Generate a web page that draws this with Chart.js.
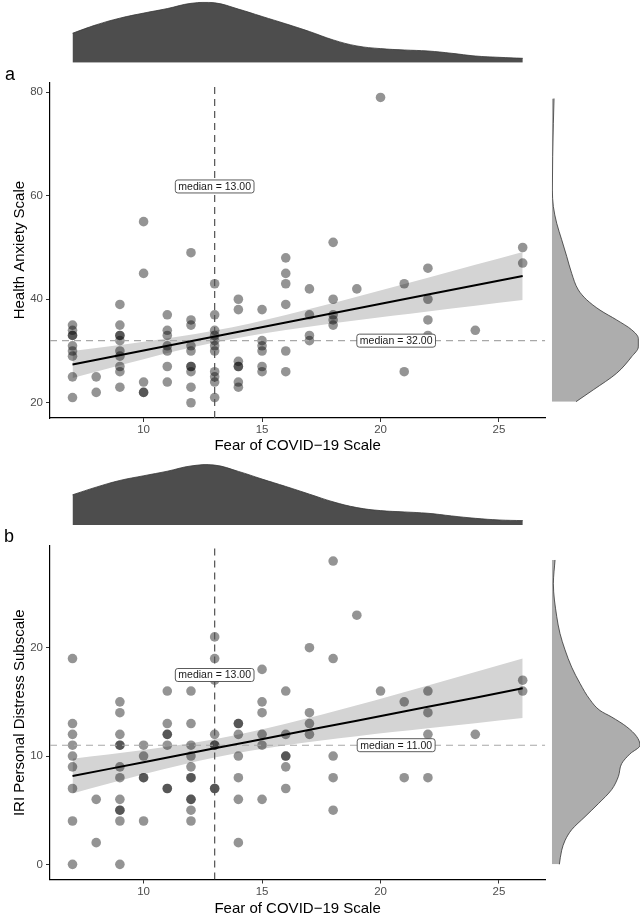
<!DOCTYPE html>
<html><head><meta charset="utf-8">
<script src="https://cdn.jsdelivr.net/npm/chart.js@4.4.1/dist/chart.umd.min.js"></script>
<style>
html,body{margin:0;padding:0;background:#fff;}
#wrap{position:relative;width:644px;height:916px;overflow:hidden;background:#fff;}
canvas{position:absolute;}
.tag{position:absolute;font-family:'Liberation Sans',Arial,sans-serif;font-size:18px;line-height:18px;color:#000;z-index:5;}
</style></head><body>
<div id="wrap">
<canvas id="topA" style="left:0;top:0" width="550" height="70"></canvas>
<canvas id="scatA" style="left:0;top:70px" width="550" height="383"></canvas>
<canvas id="rightA" style="left:545px;top:70px" width="99" height="360"></canvas>
<canvas id="topB" style="left:0;top:455px" width="550" height="75"></canvas>
<canvas id="scatB" style="left:0;top:530px" width="550" height="386"></canvas>
<canvas id="rightB" style="left:545px;top:530px" width="99" height="386"></canvas>
<span class="tag" style="left:5px;top:65px">a</span>
<span class="tag" style="left:4px;top:527px">b</span>
</div>
<script>
// ---------- data ----------
const xTicks = [10, 15, 20, 25];
const yTicksA = [20, 40, 60, 80];
const yTicksB = [0, 10, 20];

const fearA = [7,7,7,7,7,7,7,7,7, 8,8, 9,9,9,9,9,9,9,9,9,9, 10,10,10,10,10, 11,11,11,11,11,11,11,
  12,12,12,12,12,12,12,12,12,12, 13,13,13,13,13,13,13,13,13,13,13, 14,14,14,14,14,14,14,
  15,15,15,15,15,15, 16,16,16,16,16,16, 17,17,17,17, 18,18,18,18,18, 19, 20, 21,21, 22,22,22,22, 24, 26,26];
const anxietyA = [35,34,33,33,31,30,29,25,21, 25,22, 39,35,33,33,32,30,29,27,26,23, 55,45,24,22,22, 37,34,33,31,30,27,24,
  49,36,35,31,30,27,27,26,23,20, 43,37,34,33,32,31,30,26,25,24,21, 40,38,28,27,27,24,23,
  38,32,31,30,27,26, 48,45,43,39,30,26, 42,37,33,32, 51,40,37,36,35, 42, 79, 43,26, 46,40,36,33, 34, 50,47];

const fearB = [7,7,7,7,7,7,7,7,7, 8,8, 9,9,9,9,9,9,9,9,9,9,9,9, 10,10,10,10,10, 11,11,11,11,11,11,11,
  12,12,12,12,12,12,12,12,12,12,12, 13,13,13,13,13,13,13,13, 14,14,14,14,14,14,14,
  15,15,15,15,15,15, 16,16,16,16,16,16, 17,17,17,17, 18,18,18,18,18, 19, 20, 21,21, 22,22,22,22, 24, 26,26];
const distressB = [19,13,12,11,10,9,7,4,0, 6,2, 15,14,12,11,11,9,8,6,5,5,4,0, 11,10,8,8,4, 16,13,12,12,11,7,7,
  16,13,11,10,9,8,8,6,6,5,4, 21,19,17,12,11,11,7,7, 13,13,12,10,8,6,2,
  18,15,14,12,11,6, 16,12,10,10,9,7, 20,14,13,12, 28,19,10,8,5, 23, 16, 15,8, 16,14,12,8, 12, 17,16];

// regression fit and confidence band
const fitX = [7, 8.5, 10, 11.5, 13, 14.5, 16, 17.5, 19, 20.5, 22, 24, 26];
const fitA = [27.4, 28.75, 30.1, 31.45, 32.8, 34.15, 35.5, 36.85, 38.2, 39.55, 40.9, 42.7, 44.5];
const lowA = [24.8, 26.63, 28.41, 30.12, 31.66, 32.97, 34.06, 35.02, 35.92, 36.79, 37.64, 38.75, 39.85];
const uppA = [30.0, 30.87, 31.79, 32.78, 33.94, 35.33, 36.94, 38.68, 40.48, 42.31, 44.16, 46.65, 49.15];
const fitB = [8.15, 8.79, 9.43, 10.07, 10.71, 11.35, 11.99, 12.63, 13.26, 13.9, 14.54, 15.39, 16.25];
const lowB = [6.55, 7.44, 8.31, 9.13, 9.86, 10.48, 11.0, 11.44, 11.83, 12.21, 12.56, 13.03, 13.5];
const uppB = [9.75, 10.14, 10.55, 11.01, 11.56, 12.22, 12.98, 13.82, 14.69, 15.59, 16.52, 17.75, 19.0];

const medianFear = 13, medianAnxiety = 32, medianDistress = 11;

// marginal densities
const fearDensX = [7,8,9,10,11,12,13,14,15,16,17,18,19,20,21,22,23,24,25,26];
const fearDensA = [0.0498,0.0640,0.0753,0.0838,0.0915,0.1003,0.1012,0.0906,0.0781,0.0657,0.0527,0.0385,0.0283,0.0238,0.0215,0.0198,0.0159,0.0113,0.0091,0.0074];
const fearDensB = [0.0510,0.0640,0.0753,0.0832,0.0909,0.0998,0.1012,0.0906,0.0776,0.0651,0.0521,0.0391,0.0294,0.0243,0.0221,0.0198,0.0153,0.0113,0.0085,0.0074];

const anxDensY = [20.2,22.5,25.7,28.9,30.8,32.4,34.1,36.0,37.9,39.9,41.8,45.0,48.3,51.5,54.7,57.9,61.1,67.6,74.0,78.8];
const anxDens  = [0.0146,0.025,0.039,0.048,0.052,0.052,0.048,0.039,0.029,0.021,0.016,0.012,0.009,0.006,0.003,0.001,0.0004,0.0006,0.001,0.0014];

const disDensY = [0,1.3,2.2,3.2,4.4,5.6,6.9,8.1,9.3,10.2,11.0,11.8,12.7,13.6,14.2,15.2,16.7,18.2,19.8,21.3,22.9,25.9,28.1];
const disDens  = [0.0046,0.006,0.008,0.012,0.020,0.028,0.036,0.040,0.042,0.047,0.053,0.051,0.045,0.036,0.029,0.023,0.017,0.012,0.008,0.005,0.003,0.001,0.002];

// ---------- rendering ----------
const FONT = "'Liberation Sans', Arial, Helvetica, sans-serif";
Chart.defaults.font.family = FONT;
Chart.defaults.animation = false;
Chart.defaults.responsive = false;
Chart.defaults.events = [];
Chart.defaults.plugins.legend.display = false;
Chart.defaults.plugins.tooltip.enabled = false;

const xMin = 6.05, xMax = 26.95;

const medianLabelPlugin = {
  id: 'medianLabels',
  afterDatasetsDraw(chart, args, opts) {
    const items = (opts && opts.items) || [];
    const ctx = chart.ctx, xs = chart.scales.x, ys = chart.scales.y;
    ctx.save();
    ctx.font = '10.5px ' + FONT;
    ctx.textAlign = 'center';
    ctx.textBaseline = 'middle';
    items.forEach(it => {
      const px = xs.getPixelForValue(it.x), py = ys.getPixelForValue(it.y);
      const w = ctx.measureText(it.text).width + 6, h = 13;
      ctx.beginPath();
      ctx.roundRect(px - w / 2, py - h / 2, w, h, 2.5);
      ctx.fillStyle = '#fff'; ctx.fill();
      ctx.lineWidth = 0.9; ctx.strokeStyle = '#4a4a4a'; ctx.stroke();
      ctx.fillStyle = '#1a1a1a';
      ctx.fillText(it.text, px, py + 0.5);
    });
    ctx.restore();
  }
};

function axisCommon() {
  return {
    grid: {drawOnChartArea: false, drawTicks: true, tickLength: 4, tickColor: '#333', tickWidth: 1},
    border: {display: true, color: '#000', width: 1.2}
  };
}

function scatter(id, c) {
  const pts = c.xs.map((x, i) => ({x: x, y: c.ys[i]}));
  return new Chart(document.getElementById(id), {
    type: 'scatter',
    data: {datasets: [
      {type: 'line', data: fitX.map((x, i) => ({x: x, y: c.low[i]})), borderColor: 'rgba(0,0,0,0)', borderWidth: 0,
       pointRadius: 0, fill: false, order: 7, cubicInterpolationMode: 'monotone'},
      {type: 'line', data: fitX.map((x, i) => ({x: x, y: c.upp[i]})), borderColor: 'rgba(0,0,0,0)', borderWidth: 0,
       pointRadius: 0, fill: '-1', backgroundColor: '#d4d4d4', order: 6, cubicInterpolationMode: 'monotone'},
      {data: pts, pointRadius: 4.8, backgroundColor: 'rgba(0,0,0,0.42)', borderWidth: 0, order: 5},
      {type: 'line', data: [{x: xMin, y: c.medY}, {x: xMax, y: c.medY}], borderColor: '#a8a8a8', borderWidth: 1.1,
       borderDash: [7, 5], pointRadius: 0, fill: false, order: 4},
      {type: 'line', data: [{x: medianFear, y: c.yMin}, {x: medianFear, y: c.yMax}], borderColor: '#505050', borderWidth: 1.2,
       borderDash: [7, 5], pointRadius: 0, fill: false, order: 3},
      {type: 'line', data: fitX.map((x, i) => ({x: x, y: c.fit[i]})), borderColor: '#000', borderWidth: 2,
       pointRadius: 0, fill: false, order: 2}
    ]},
    options: {
      layout: {padding: {left: 0, right: 4.7, top: c.padTop, bottom: 0}},
      plugins: {medianLabels: {items: c.labels}},
      scales: {
        x: Object.assign(axisCommon(), {
          type: 'linear', position: 'bottom', min: xMin, max: xMax,
          afterBuildTicks: s => { s.ticks = xTicks.map(v => ({value: v})); },
          afterFit: s => { s.height = c.xH; },
          ticks: {color: '#4d4d4d', font: {size: 11.5}, padding: 1.2, autoSkip: false, maxRotation: 0},
          title: {display: true, text: 'Fear of COVID\u221219 Scale', color: '#000', font: {size: 15, lineHeight: 1}, padding: {top: 0, bottom: 0}}
        }),
        y: Object.assign(axisCommon(), {
          type: 'linear', position: 'left', min: c.yMin, max: c.yMax,
          afterBuildTicks: s => { s.ticks = c.yTicks.map(v => ({value: v})); },
          afterFit: s => { s.width = 50; },
          ticks: {color: '#4d4d4d', font: {size: 11.5}, padding: 3, autoSkip: false},
          title: {display: true, text: c.yTitle, color: '#000', font: {size: 15, lineHeight: 1}, padding: {top: 12.5, bottom: 0}}
        })
      }
    },
    plugins: [medianLabelPlugin]
  });
}

function topDensity(id, dens, pad) {
  return new Chart(document.getElementById(id), {
    type: 'line',
    data: {datasets: [{data: fearDensX.map((x, i) => ({x: x, y: dens[i]})), fill: 'origin', backgroundColor: '#4d4d4d',
      borderColor: '#3a3a3a', borderWidth: 0.8, pointRadius: 0, tension: 0.4}]},
    options: {
      layout: {padding: pad},
      scales: {x: {type: 'linear', min: xMin, max: xMax, display: false},
               y: {type: 'linear', min: 0, max: 0.1031, display: false}}
    }
  });
}

function rightDensity(id, ys, dens, yMin, yMax, pad) {
  return new Chart(document.getElementById(id), {
    type: 'line',
    data: {datasets: [{data: ys.map((y, i) => ({x: dens[i], y: y})), fill: 'origin', backgroundColor: '#adadad',
      borderColor: '#333', borderWidth: 0.8, pointRadius: 0, cubicInterpolationMode: 'monotone'}]},
    options: {
      indexAxis: 'y',
      layout: {padding: pad},
      scales: {x: {type: 'linear', min: 0, max: 0.053, display: false},
               y: {type: 'linear', min: yMin, max: yMax, display: false}}
    }
  });
}

topDensity('topA', fearDensA, {left: 50, right: 4.7, top: 1.7, bottom: 7.3});
scatter('scatA', {xs: fearA, ys: anxietyA, low: lowA, upp: uppA, fit: fitA, medY: medianAnxiety,
  yMin: 17.05, yMax: 81.95, yTicks: yTicksA, yTitle: 'Health Anxiety Scale', padTop: 12.2, xH: 35,
  labels: [{x: 13, y: 61.8, text: 'median = 13.00'}, {x: 20.66, y: 32, text: 'median = 32.00'}]});
rightDensity('rightA', anxDensY, anxDens, 17.05, 81.95, {left: 6.7, right: 4, top: 12.2, bottom: 12});

topDensity('topB', fearDensB, {left: 50, right: 4.7, top: 9, bottom: 5});
scatter('scatB', {xs: fearB, ys: distressB, low: lowB, upp: uppB, fit: fitB, medY: medianDistress,
  yMin: -1.4, yMax: 29.4, yTicks: yTicksB, yTitle: 'IRI Personal Distress Subscale', padTop: 15.9, xH: 36.5,
  labels: [{x: 13, y: 17.48, text: 'median = 13.00'}, {x: 20.66, y: 11, text: 'median = 11.00'}]});
rightDensity('rightB', disDensY, disDens, -1.4, 29.4, {left: 6.7, right: 4, top: 15.9, bottom: 36.5});
</script>
</body></html>
